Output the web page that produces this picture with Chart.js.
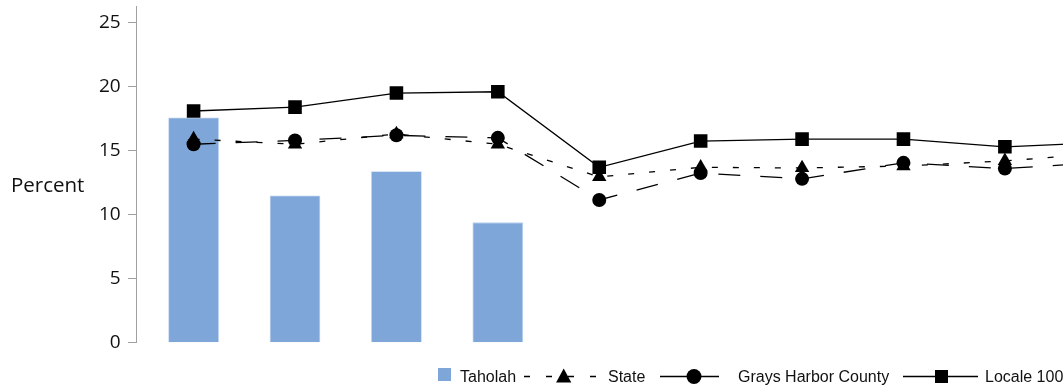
<!DOCTYPE html>
<html><head><meta charset="utf-8">
<script src="https://cdn.jsdelivr.net/npm/chart.js@4"></script>
<style>
html,body{margin:0;padding:0;background:#fff;overflow:hidden}
#wrap{width:1063px;height:386px;overflow:hidden;position:relative}
canvas{display:block}
</style></head><body>
<div id="wrap"><canvas id="c" width="1157" height="386" style="width:1157px;height:386px"></canvas></div>
<script>
// ---- data ----
const categories = ['1','2','3','4','5','6','7','8','9','10'];
const taholah = [17.6, 11.5, 13.4, 9.4, null, null, null, null, null, null];
const stateVals = [15.9, 15.5, 16.3, 15.5, 12.95, 13.7, 13.65, 13.8, 14.2, 14.8];
const countyVals = [15.5, 15.8, 16.2, 16.0, 11.15, 13.25, 12.8, 14.05, 13.6, 14.1];
const localeVals = [18.1, 18.4, 19.5, 19.6, 13.7, 15.75, 15.9, 15.9, 15.3, 15.65];
const yTicks = [0, 5, 10, 15, 20, 25];
const seriesNames = ['Taholah', 'State', 'Grays Harbor County', 'Locale 100'];
const yTitle = 'Percent';

const BAR = '#7ea6d8';
const pts = arr => arr.map((v, i) => ({x: i, y: v})).filter(p => p.y !== null);

const overlay = {
  id: 'overlay',
  afterDraw(chart) {
    const ctx = chart.ctx;
    ctx.save();
    // y title
    ctx.fillStyle = '#111';
    ctx.font = '20.5px "Open Sans"';
    ctx.textAlign = 'left';
    ctx.textBaseline = 'middle';
    ctx.fillText(yTitle, 11, 186);
    // legend
    const ly = 376.5;
    ctx.font = '16px "Liberation Sans"';
    ctx.textBaseline = 'alphabetic';
    ctx.fillStyle = BAR;
    ctx.fillRect(438, 368, 13, 13);
    ctx.fillStyle = '#111';
    ctx.fillText(seriesNames[0], 460, 382);
    // state
    ctx.strokeStyle = '#000';
    ctx.lineWidth = 1.3;
    ctx.setLineDash([6, 16]);
    ctx.beginPath(); ctx.moveTo(524, ly); ctx.lineTo(597, ly); ctx.stroke();
    ctx.setLineDash([]);
    ctx.fillStyle = '#000';
    ctx.beginPath();
    ctx.moveTo(563.7, 368.5); ctx.lineTo(571.3, 382.5); ctx.lineTo(556.1, 382.5); ctx.closePath(); ctx.fill();
    ctx.fillStyle = '#111';
    ctx.fillText(seriesNames[1], 608, 382);
    // county
    ctx.beginPath(); ctx.moveTo(660, ly); ctx.lineTo(719, ly); ctx.stroke();
    ctx.fillStyle = '#000';
    ctx.beginPath(); ctx.arc(694, ly, 7.5, 0, Math.PI * 2); ctx.fill();
    ctx.fillStyle = '#111';
    ctx.fillText(seriesNames[2], 738, 382);
    // locale
    ctx.beginPath(); ctx.moveTo(903, ly); ctx.lineTo(978, ly); ctx.stroke();
    ctx.fillStyle = '#000';
    ctx.fillRect(935, ly - 6.5, 13, 13);
    ctx.fillStyle = '#111';
    ctx.fillText(seriesNames[3], 985, 382);
    ctx.restore();
  }
};

new Chart(document.getElementById('c'), {
  data: {
    labels: categories,
    datasets: [
      {type: 'bar', label: seriesNames[0], data: pts(taholah), backgroundColor: BAR,
       borderColor: '#b9cfee', borderWidth: 0.8, categoryPercentage: 0.5, barPercentage: 1.0, order: 10},
      {type: 'line', label: seriesNames[1], data: pts(stateVals), borderColor: '#000', borderWidth: 1.3,
       borderDash: [6, 15], pointStyle: 'triangle', pointRadius: 8.3, pointBackgroundColor: '#000',
       pointBorderColor: '#000', pointBorderWidth: 0, tension: 0, order: 3},
      {type: 'line', label: seriesNames[2], data: pts(countyVals), borderColor: '#000', borderWidth: 1.3,
       borderDash: [22, 20], pointStyle: 'circle', pointRadius: 7, pointBackgroundColor: '#000',
       pointBorderColor: '#000', pointBorderWidth: 0, tension: 0, order: 2},
      {type: 'line', label: seriesNames[3], data: pts(localeVals), borderColor: '#000', borderWidth: 1.3,
       pointStyle: 'rect', pointRadius: 9.6, pointBackgroundColor: '#000',
       pointBorderColor: '#000', pointBorderWidth: 0, tension: 0, order: 1}
    ]
  },
  options: {
    responsive: false,
    animation: false,
    devicePixelRatio: 1,
    layout: {autoPadding: false, padding: {left: 0, right: 0, top: 6, bottom: 43.3}},
    plugins: {legend: {display: false}, tooltip: {enabled: false}},
    scales: {
      x: {type: 'linear', min: -0.568, max: 9.5, display: false, offset: false, grid: {offset: false}},
      y: {
        min: 0, max: 26.3,
        afterFit(s) { s.width = 136; s.paddingTop = 0; s.paddingBottom = 0; },
        afterBuildTicks(s) { s.ticks = yTicks.map(v => ({value: v})); },
        ticks: {color: '#111', font: {family: '"Open Sans"', size: 19}, padding: 7.3},
        grid: {drawOnChartArea: false, drawTicks: true, tickLength: 8, color: '#a0a0a0'},
        border: {display: true, color: '#a0a0a0', width: 1}
      }
    }
  },
  plugins: [overlay]
});
</script>
</body></html>
